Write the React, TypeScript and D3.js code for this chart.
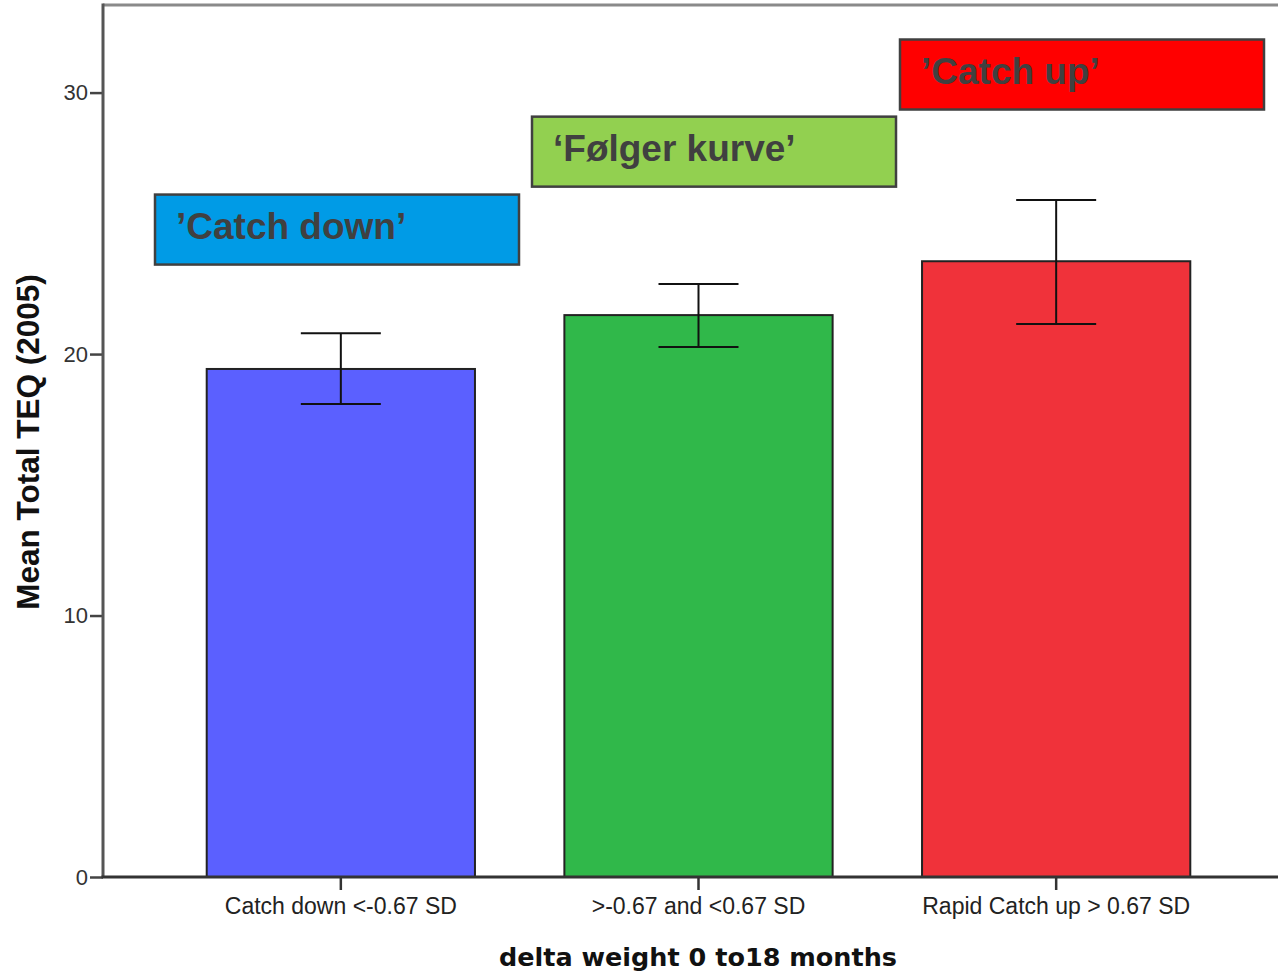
import React, { useRef, useEffect } from "react";
import * as d3 from "d3";

// Mean Total TEQ by weight-change group (bar + 95% CI)
const categories = [
  "Catch down <-0.67 SD",
  ">-0.67 and <0.67 SD",
  "Rapid Catch up > 0.67 SD",
];
const means = [19.43, 21.49, 23.55];
const ciLow = [18.09, 20.27, 21.15];
const ciHigh = [20.8, 22.68, 25.89];
const yTicks = [0, 10, 20, 30];

const groupLabels = ["\u2019Catch down\u2019", "\u2018F\u00f8lger kurve\u2019", "\u2019Catch up\u2019"];
// top edge of each annotation box, in y units
const groupLabelTop = [26.1, 29.08, 32.03];

const barColors = ["#5b60ff", "#30b84a", "#f0323a"];
const labelFills = ["#009be6", "#92d050", "#ff0000"];

const W = 1278;
const H = 972;

const TeqChart = () => {
  const ref = useRef<SVGSVGElement>(null);

  useEffect(() => {
    const container = ref.current;
    if (!container) return;
    d3.select(container).selectChildren().remove();

    const left = 103,
      right = W,
      top = 5,
      bottom = 877;

    const svg = d3.select(container);

    const x = d3
      .scaleBand()
      .domain(categories)
      .range([162, 1235])
      .paddingInner(0.25)
      .paddingOuter(0.125);

    const y = d3.scaleLinear().domain([0, 33.35]).range([bottom, top]);

    // frame top
    svg
      .append("line")
      .attr("x1", left)
      .attr("x2", right)
      .attr("y1", top)
      .attr("y2", top)
      .attr("stroke", "#8a8a8a")
      .attr("stroke-width", 3);

    // annotation boxes
    const ann = svg
      .selectAll("g.ann")
      .data(groupLabels)
      .enter()
      .append("g")
      .attr("class", "ann");

    const boxX = [155, 532, 900];
    ann
      .append("rect")
      .attr("x", (_, i) => boxX[i])
      .attr("y", (_, i) => y(groupLabelTop[i]))
      .attr("width", 364)
      .attr("height", 70)
      .attr("fill", (_, i) => labelFills[i])
      .attr("stroke", "#404040")
      .attr("stroke-width", 2.5);

    ann
      .append("text")
      .attr("x", (_, i) => boxX[i] + 21)
      .attr("y", (_, i) => y(groupLabelTop[i]) + 44)
      .attr("font-family", "Liberation Sans, Arial, sans-serif")
      .attr("font-weight", "bold")
      .attr("font-size", 37)
      .attr("fill", "#404040")
      .text((d) => d);

    // bars
    svg
      .selectAll("rect.bar")
      .data(categories)
      .enter()
      .append("rect")
      .attr("class", "bar")
      .attr("x", (d) => x(d)!)
      .attr("y", (_, i) => y(means[i]))
      .attr("width", x.bandwidth())
      .attr("height", (_, i) => y(0) - y(means[i]))
      .attr("fill", (_, i) => barColors[i])
      .attr("stroke", "#222")
      .attr("stroke-width", 2);

    // error bars
    const eb = svg
      .selectAll("g.err")
      .data(categories)
      .enter()
      .append("g")
      .attr("class", "err")
      .attr("stroke", "#111")
      .attr("stroke-width", 2);
    const cx = (d: string) => x(d)! + x.bandwidth() / 2;
    eb.append("line")
      .attr("x1", cx)
      .attr("x2", cx)
      .attr("y1", (_, i) => y(ciLow[i]))
      .attr("y2", (_, i) => y(ciHigh[i]));
    [ciLow, ciHigh].forEach((arr) => {
      eb.append("line")
        .attr("x1", (d) => cx(d) - 40)
        .attr("x2", (d) => cx(d) + 40)
        .attr("y1", (_, i) => y(arr[i]))
        .attr("y2", (_, i) => y(arr[i]));
    });

    // Y axis
    const yAxis = svg
      .append("g")
      .attr("transform", `translate(${left},0)`)
      .call(d3.axisLeft(y).tickValues(yTicks).tickSize(13).tickPadding(2).tickSizeOuter(0));
    yAxis.select(".domain").remove();
    yAxis.selectAll(".tick line").attr("stroke", "#444").attr("stroke-width", 2.5);
    yAxis
      .selectAll(".tick text")
      .attr("font-family", "Liberation Sans, Arial, sans-serif")
      .attr("font-size", 22)
      .attr("fill", "#333");
    svg
      .append("line")
      .attr("x1", left)
      .attr("x2", left)
      .attr("y1", top - 1.5)
      .attr("y2", bottom)
      .attr("stroke", "#555")
      .attr("stroke-width", 3);

    // X axis
    const xAxis = svg
      .append("g")
      .attr("transform", `translate(0,${bottom})`)
      .call(d3.axisBottom(x).tickSize(13).tickPadding(8).tickSizeOuter(0));
    xAxis.select(".domain").remove();
    xAxis.selectAll(".tick line").attr("stroke", "#333").attr("stroke-width", 2.5);
    xAxis
      .selectAll(".tick text")
      .attr("font-family", "Liberation Sans, Arial, sans-serif")
      .attr("font-size", 23)
      .attr("fill", "#222");
    svg
      .append("line")
      .attr("x1", left - 1.5)
      .attr("x2", right)
      .attr("y1", bottom)
      .attr("y2", bottom)
      .attr("stroke", "#333")
      .attr("stroke-width", 3);

    // axis titles
    svg
      .append("text")
      .attr("x", 698)
      .attr("y", 966)
      .attr("text-anchor", "middle")
      .attr("font-family", "DejaVu Sans, Verdana, sans-serif")
      .attr("font-weight", "bold")
      .attr("font-size", 25.5)
      .attr("fill", "#111")
      .text("delta weight 0 to18 months");

    svg
      .append("text")
      .attr("transform", `translate(39,442) rotate(-90)`)
      .attr("text-anchor", "middle")
      .attr("font-family", "Liberation Sans, Arial, sans-serif")
      .attr("font-weight", "bold")
      .attr("font-size", 31.5)
      .attr("fill", "#111")
      .text("Mean Total TEQ (2005)");
  }, []);

  return (
    <svg
      ref={ref}
      width={W}
      height={H}
      style={{ position: "absolute", left: 0, top: 0, background: "#fff" }}
    />
  );
};

export default function App() {
  return <TeqChart />;
}
